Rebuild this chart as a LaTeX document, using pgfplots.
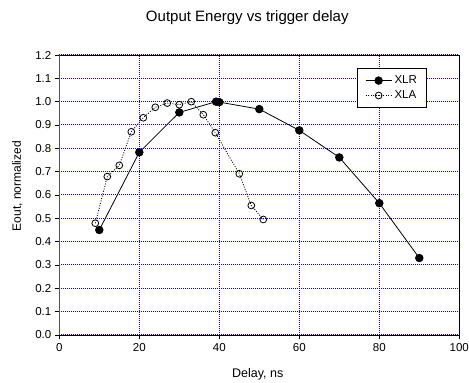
\documentclass[border=0pt]{standalone}
\usepackage{fontspec}
\setmainfont{Liberation Sans}
\usepackage{pgfplots}
\pgfplotsset{compat=1.18}
\definecolor{gridblue}{RGB}{0,0,255}
\begin{document}
\begin{tikzpicture}[x=1pt,y=1pt]
\useasboundingbox (0,0) rectangle (469,383);
\begin{axis}[
  at={(59.3pt,48pt)}, anchor=south west,
  width=400pt, height=280pt, scale only axis,
  xmin=0, xmax=100, ymin=0, ymax=1.2,
  xtick={0,20,40,60,80,100},
  ytick={0,0.1,0.2,0.3,0.4,0.5,0.6,0.7,0.8,0.9,1.0,1.1,1.2},
  yticklabel style={/pgf/number format/.cd, fixed, fixed zerofill, precision=1},
  /pgf/number format/assume math mode=true,
  tick label style={font=\fontsize{11.5}{13}\selectfont},
  tick align=outside, xtick pos=bottom, ytick pos=left,
  major tick length=4.5pt,
  tick style={black, line width=0.8pt},
  axis line style={black, line width=0.9pt},
  grid=major,
  major grid style={gridblue, line width=1pt, dash pattern=on 1pt off 1pt},
  title={Output Energy vs trigger delay},
  title style={font=\fontsize{15}{17}\selectfont, at={(rel axis cs:0.47,1)}, anchor=center, yshift=31pt},
  xlabel={Delay, ns},
  xlabel style={font=\fontsize{12.5}{14}\selectfont, at={(axis description cs:0.496,0)}, anchor=center, yshift=-39pt},
  ylabel={Eout, normalized},
  ylabel style={font=\fontsize{12}{14}\selectfont, at={(axis description cs:-0.105,0.532)}, anchor=center},
  legend style={at={(rel axis cs:0.745,0.952)}, anchor=north west,
    draw=black, line width=0.9pt, font=\fontsize{11.5}{13}\selectfont,
    inner xsep=7.5pt, inner ysep=4.5pt, row sep=0.5pt, nodes={inner sep=2.5pt}},
  legend cell align=left,
  legend image code/.code={\draw[mark repeat=2,mark phase=2,#1] plot coordinates {(0pt,0pt) (13pt,0pt) (26pt,0pt)};},
]
\addplot[black, line width=0.8pt, mark=*, mark size=3.8pt, mark options={solid, fill=black}]
coordinates {(10,0.45) (20,0.783) (30,0.954) (39.2,1.0) (40,0.998) (50,0.968) (60,0.877) (70,0.761) (80,0.565) (90,0.33)};
\addlegendentry{XLR}
\addplot[black, line width=0.8pt, dash pattern=on 1pt off 1.5pt, mark=o, mark size=3.4pt, mark options={solid, fill=white, line width=0.8pt}]
coordinates {(9,0.479) (12,0.679) (15,0.727) (18,0.871) (21,0.931) (24,0.976) (27,0.994) (30,0.987) (33,1.0) (36,0.944) (39,0.867) (45,0.691) (48,0.555) (51,0.495)};
\addlegendentry{XLA}
\draw[gray, line width=1.8pt] (rel axis cs:0,0) -- (rel axis cs:0,1);
\end{axis}
\end{tikzpicture}
\end{document}
